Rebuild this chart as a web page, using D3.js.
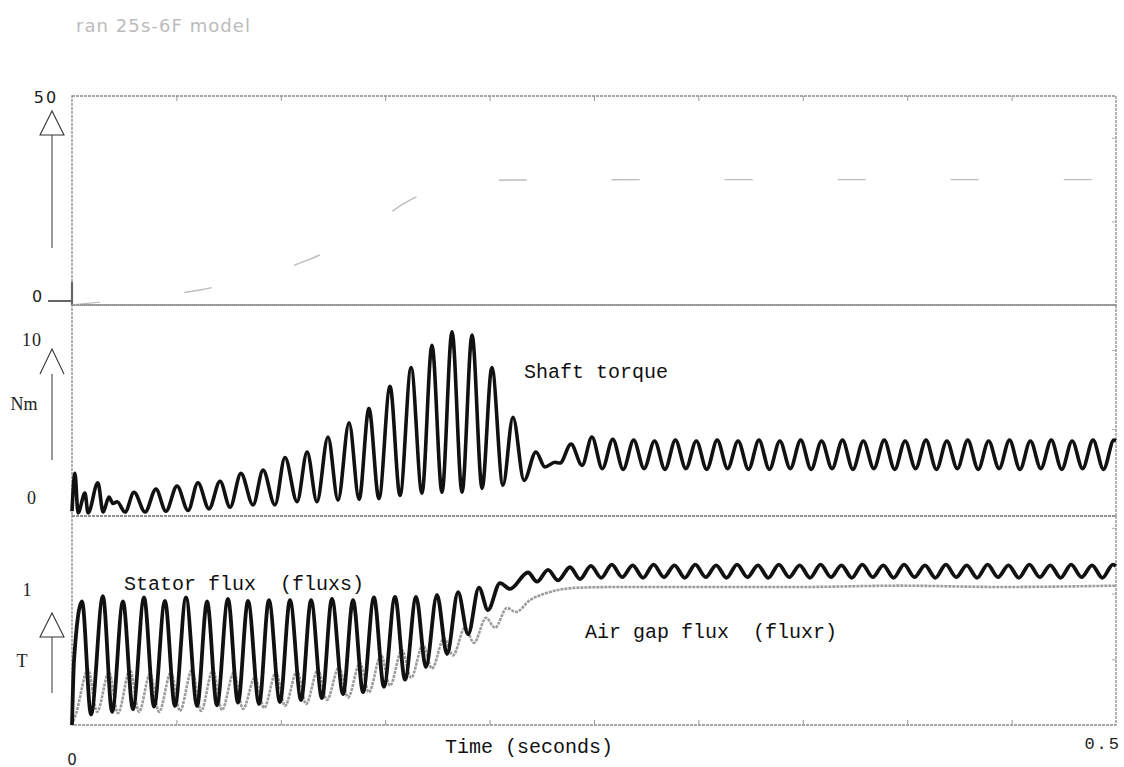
<!DOCTYPE html>
<html>
<head>
<meta charset="utf-8">
<script src="https://d3js.org/d3.v7.min.js"></script>
<style>
body { margin:0; background:#fff; }
svg { display:block; }
</style>
</head>
<body>
<svg id="drawing_region"></svg>
<script>
// time (s), value -- swing extremes
const speed = [
    [0,0],[0.0134,0.7],[0.0326,1.7],[0.0613,3.6],[0.0805,5.7],[0.1106,10.3],
    [0.135,16],[0.1619,25.1],[0.18,28.8],[0.2098,29.9],[0.30,30],[0.40,30],[0.5,30]
];

const torque = [
    [0,-0.2],[0.0014,2.2],[0.0029,-0.3],[0.0062,0.95],[0.0077,-0.3],[0.0124,1.6],
    [0.0149,-0.25],[0.0177,0.7],[0.0196,0.3],[0.0216,0.4],[0.0254,-0.25],[0.0297,1.0],
    [0.0350,-0.25],[0.0402,1.2],[0.0450,-0.2],[0.0503,1.4],[0.0556,-0.15],[0.0603,1.6],
    [0.0656,-0.05],[0.0709,1.7],[0.0757,0.05],[0.0809,2.2],[0.0867,0.2],[0.0915,2.4],
    [0.0972,0.2],[0.1020,3.2],[0.1078,0.4],[0.1126,3.55],[0.1173,0.4],[0.1226,4.5],
    [0.1274,0.5],[0.1327,5.4],[0.1375,0.55],[0.1422,6.3],[0.1470,0.6],[0.1523,7.7],
    [0.1571,0.8],[0.1624,8.9],[0.1676,0.95],[0.1724,10.3],[0.1772,1.0],[0.1820,11.15],
    [0.1868,1.0],[0.1916,10.95],[0.1964,1.25],[0.2011,8.9],[0.2064,1.45],[0.2112,5.75],
    [0.2165,1.75],[0.2222,3.55],[0.2265,2.6],[0.2313,2.9],[0.2337,2.85],[0.2390,4.05],
    [0.2443,2.7],[0.2490,4.5],
    [0.2540,2.5],[0.2590,4.35],[0.2640,2.45],[0.2690,4.3],[0.2740,2.5],[0.2790,4.25],
    [0.2840,2.45],[0.2890,4.3],[0.2940,2.5],[0.2990,4.25],[0.3040,2.45],[0.3090,4.3],
    [0.3140,2.5],[0.3190,4.25],[0.3240,2.45],[0.3290,4.3],[0.3340,2.45],[0.3390,4.25],
    [0.3440,2.5],[0.3490,4.3],[0.3540,2.45],[0.3590,4.25],[0.3640,2.5],[0.3690,4.3],
    [0.3740,2.45],[0.3790,4.25],[0.3840,2.5],[0.3890,4.3],[0.3940,2.45],[0.3990,4.25],
    [0.4040,2.5],[0.4090,4.3],[0.4140,2.45],[0.4190,4.25],[0.4240,2.5],[0.4290,4.3],
    [0.4340,2.45],[0.4390,4.25],[0.4440,2.5],[0.4490,4.3],[0.4540,2.45],[0.4590,4.25],
    [0.4640,2.5],[0.4690,4.3],[0.4740,2.45],[0.4790,4.25],[0.4840,2.5],[0.4890,4.3],
    [0.4940,2.45],[0.4990,4.3],[0.5000,4.25]
];

const fluxs = [
    [0,0],[0.001,0.5],[0.0048,0.94],[0.0091,0.08],[0.0148,0.98],[0.0192,0.10],
    [0.0244,0.94],[0.0292,0.12],[0.0345,0.97],[0.0393,0.14],[0.0445,0.945],[0.0493,0.145],
    [0.0546,0.97],[0.0599,0.145],[0.0647,0.94],[0.0694,0.15],[0.0747,0.96],[0.0795,0.17],
    [0.0843,0.945],[0.0896,0.16],[0.0943,0.95],[0.0996,0.175],[0.1044,0.95],[0.1097,0.19],
    [0.1145,0.95],[0.1197,0.205],[0.1245,0.96],[0.1298,0.235],[0.1346,0.95],[0.1394,0.25],
    [0.1446,0.97],[0.1494,0.29],[0.1547,0.975],[0.1595,0.345],[0.1648,0.975],[0.1695,0.44],
    [0.1748,0.99],[0.1796,0.54],[0.1849,1.01],[0.1897,0.69],[0.1949,1.045],[0.1992,0.875],
    [0.2050,1.08],[0.2098,1.035],[0.2184,1.16],[0.2227,1.09],[0.2280,1.18],[0.2328,1.10],
    [0.2385,1.20],[0.2433,1.11],
    [0.2485,1.21],[0.2535,1.12],[0.2585,1.22],[0.2635,1.125],[0.2685,1.215],[0.2735,1.12],
    [0.2785,1.22],[0.2835,1.125],[0.2885,1.215],[0.2935,1.12],[0.2985,1.22],[0.3035,1.125],
    [0.3085,1.215],[0.3135,1.12],[0.3185,1.22],[0.3235,1.125],[0.3285,1.215],[0.3335,1.12],
    [0.3385,1.22],[0.3435,1.125],[0.3485,1.215],[0.3535,1.12],[0.3585,1.22],[0.3635,1.125],
    [0.3685,1.215],[0.3735,1.12],[0.3785,1.22],[0.3835,1.125],[0.3885,1.215],[0.3935,1.12],
    [0.3985,1.22],[0.4035,1.125],[0.4085,1.215],[0.4135,1.12],[0.4185,1.22],[0.4235,1.125],
    [0.4285,1.215],[0.4335,1.12],[0.4385,1.22],[0.4435,1.125],[0.4485,1.215],[0.4535,1.12],
    [0.4585,1.22],[0.4635,1.125],[0.4685,1.215],[0.4735,1.12],[0.4785,1.22],[0.4835,1.125],
    [0.4885,1.215],[0.4935,1.12],[0.4985,1.22],[0.5000,1.21]
];

const fluxr = [
    [0,0],[0.0019,0.084],[0.0077,0.42],[0.0120,0.10],[0.0177,0.40],[0.0220,0.09],
    [0.0278,0.42],[0.0321,0.10],[0.0374,0.39],[0.0417,0.10],[0.0474,0.40],[0.0517,0.107],
    [0.0575,0.42],[0.0618,0.107],[0.0675,0.42],[0.0718,0.114],[0.0776,0.40],[0.0819,0.122],
    [0.0876,0.36],[0.0920,0.13],[0.0977,0.40],[0.1020,0.145],[0.1078,0.41],[0.1121,0.16],
    [0.1178,0.42],[0.1221,0.19],[0.1279,0.44],[0.1322,0.21],[0.1379,0.47],[0.1422,0.25],
    [0.1480,0.53],[0.1523,0.30],[0.1580,0.57],[0.1624,0.36],[0.1681,0.61],[0.1724,0.43],
    [0.1782,0.66],[0.1825,0.53],[0.1882,0.74],[0.1925,0.625],[0.1983,0.815],[0.2026,0.74],
    [0.2083,0.89],[0.2126,0.86],[0.2193,0.95],[0.2265,1.0],[0.2337,1.03],[0.2433,1.045],
    [0.2625,1.05],[0.3008,1.05],[0.3487,1.05],[0.3966,1.06],[0.4444,1.05],[0.5,1.06]
];

const topLabels = [0, 50];
const midLabels = [0, 10];
const botLabels = [1];
const timeLabels = [0, 0.5];

const svg = d3.select('#drawing_region')
    .attr('width', 1124)
    .attr('height', 767);

svg.append('rect').attr('width', 1124).attr('height', 767).attr('fill', '#fff');

const xscale = d3.scaleLinear().domain([0, 0.5]).range([72, 1116]);

class TracePanel {

    constructor( config ) {
        this.config = config;
        this.init();
    }

    init() {
        let self = this;
        let c = self.config;

        self.yscale = d3.scaleLinear().domain(c.domain).range([c.bottom, c.top]);
        self.g = svg.append('g');

        self.g.append('rect')
            .attr('x', xscale.range()[0])
            .attr('y', c.top)
            .attr('width', xscale.range()[1] - xscale.range()[0])
            .attr('height', c.bottom - c.top)
            .attr('fill', 'none')
            .attr('stroke', '#8a8a8a')
            .attr('stroke-width', 1.3)
            .attr('stroke-dasharray', '3 1');

        // small time ticks on the frame
        if (c.tickEdge) {
            const inner = xscale.ticks(10).filter(d => d > 0 && d < 0.5);
            const ax = c.tickEdge === 'top'
                ? d3.axisBottom(xscale).tickValues(inner).tickSize(5).tickFormat('')
                : d3.axisTop(xscale).tickValues(inner).tickSize(5).tickFormat('');
            const ag = self.g.append('g')
                .attr('transform', `translate(0, ${c.tickEdge === 'top' ? c.top : c.bottom})`)
                .call(ax);
            ag.select('.domain').remove();
            ag.selectAll('line').attr('stroke', '#999');
        }

        // faint y ticks at the right edge
        const ry = d3.axisLeft(self.yscale).ticks(3).tickSize(4).tickFormat('');
        const rg = self.g.append('g')
            .attr('transform', `translate(${xscale.range()[1]}, 0)`)
            .call(ry);
        rg.select('.domain').remove();
        rg.selectAll('.tick').filter(d => self.yscale(d) < c.top + 8 || self.yscale(d) > c.bottom - 8).remove();
        rg.selectAll('line').attr('stroke', '#aaa');

        // tick labels
        self.g.selectAll('.ylab')
            .data(c.labels)
            .enter()
            .append('text')
            .attr('x', c.labelX)
            .attr('y', d => self.yscale(d) + c.labelDy)
            .attr('text-anchor', 'middle')
            .attr('dominant-baseline', 'middle')
            .attr('font-family', c.labelFont)
            .attr('font-size', c.labelSize)
            .attr('letter-spacing', c.labelSpacing)
            .attr('fill', '#222')
            .text(d => d);

        // up arrow
        const a = c.arrow;
        self.g.append('path')
            .attr('d', a.closed
                ? `M52,${a.apex} L40,${a.base} L64,${a.base} Z`
                : `M40,${a.base} L52,${a.apex} L64,${a.base}`)
            .attr('fill', 'none')
            .attr('stroke', '#333')
            .attr('stroke-width', 1.1);
        self.g.append('line')
            .attr('x1', 52).attr('x2', 52)
            .attr('y1', a.base).attr('y2', a.end)
            .attr('stroke', '#444')
            .attr('stroke-width', 1.1);

        if (c.unit) {
            self.g.append('text')
                .attr('x', c.unit.x)
                .attr('y', c.unit.y)
                .attr('text-anchor', 'middle')
                .attr('dominant-baseline', 'middle')
                .attr('font-family', 'Liberation Serif')
                .attr('font-size', 18)
                .attr('fill', '#222')
                .text(c.unit.text);
        }
    }

    render( series ) {
        let self = this;
        const line = d3.line()
            .x(d => xscale(d[0]))
            .y(d => self.yscale(d[1]))
            .curve(d3.curveMonotoneX);

        series.forEach(s => {
            self.g.append('path')
                .datum(s.data)
                .attr('d', line)
                .attr('fill', 'none')
                .attr('stroke', s.color)
                .attr('stroke-width', s.width)
                .attr('stroke-dasharray', s.dash || null)
                .attr('stroke-linejoin', 'round');
        });

        (self.config.notes || []).forEach(n => {
            self.g.append('text')
                .attr('x', n.x)
                .attr('y', n.y)
                .attr('font-family', 'Liberation Mono')
                .attr('font-size', 20)
                .attr('fill', '#111')
                .attr('xml:space', 'preserve')
                .style('white-space', 'pre')
                .text(n.text);
        });
    }
}

const topPanel = new TracePanel({
    top: 96, bottom: 305, domain: [0, 50],
    labels: topLabels, labelX: 46, labelDy: 0,
    labelFont: 'DejaVu Sans', labelSize: 16, labelSpacing: 2,
    arrow: { apex: 111, base: 135, end: 248, closed: true },
    tickEdge: 'top'
});
topPanel.g.selectAll('text').filter(d => d === 0).attr('y', 297).attr('x', 38);
topPanel.g.selectAll('text').filter(d => d === 50).attr('y', 98);
// short dark mark at the origin of the speed trace
topPanel.g.append('path')
    .attr('d', 'M48,301 L72,301 M72,282 L72,305')
    .attr('stroke', '#666').attr('stroke-width', 2.2).attr('fill', 'none');
topPanel.render([
    { data: speed, color: '#bdbdbd', width: 1.4, dash: '28 85' }
]);

const midPanel = new TracePanel({
    top: 305, bottom: 516, domain: [-0.5, 12.85],
    labels: midLabels, labelX: 32, labelDy: -8,
    labelFont: 'Liberation Serif', labelSize: 18, labelSpacing: 1,
    arrow: { apex: 349, base: 374, end: 460, closed: false },
    unit: { text: 'Nm', x: 24, y: 406 },
    notes: [ { text: 'Shaft torque', x: 524, y: 378 } ]
});
midPanel.render([
    { data: torque, color: '#111', width: 3.6 }
]);

const botPanel = new TracePanel({
    top: 516, bottom: 725, domain: [0, 1.59],
    labels: botLabels, labelX: 27, labelDy: -2,
    labelFont: 'Liberation Serif', labelSize: 18, labelSpacing: 0,
    arrow: { apex: 613, base: 637, end: 693, closed: true },
    unit: { text: 'T', x: 22, y: 663 },
    tickEdge: 'bottom',
    notes: [
        { text: 'Stator flux  (fluxs)', x: 124, y: 590 },
        { text: 'Air gap flux  (fluxr)', x: 585, y: 638 }
    ]
});
botPanel.render([
    { data: fluxr, color: '#9c9c9c', width: 2.6, dash: '3 1' },
    { data: fluxs, color: '#111', width: 3.8 }
]);

// time axis text
svg.append('text')
    .attr('x', xscale(timeLabels[0]))
    .attr('y', 760)
    .attr('text-anchor', 'middle')
    .attr('dominant-baseline', 'middle')
    .attr('font-family', 'DejaVu Sans')
    .attr('font-size', 15)
    .attr('fill', '#222')
    .text(timeLabels[0]);

svg.append('text')
    .attr('x', xscale(timeLabels[1]) + 5)
    .attr('y', 745)
    .attr('text-anchor', 'end')
    .attr('dominant-baseline', 'middle')
    .attr('font-family', 'Liberation Mono')
    .attr('font-size', 17)
    .attr('letter-spacing', 2)
    .attr('fill', '#222')
    .text(timeLabels[1]);

svg.append('text')
    .attr('x', 445)
    .attr('y', 753)
    .attr('font-family', 'Liberation Mono')
    .attr('font-size', 20)
    .attr('fill', '#111')
    .text('Time (seconds)');

// faint header from the scan
svg.append('text')
    .attr('x', 76)
    .attr('y', 32)
    .attr('font-family', 'DejaVu Sans')
    .attr('font-size', 18)
    .attr('fill', '#bbb')
    .attr('textLength', 174)
    .text('ran 25s-6F model');
</script>
</body>
</html>
